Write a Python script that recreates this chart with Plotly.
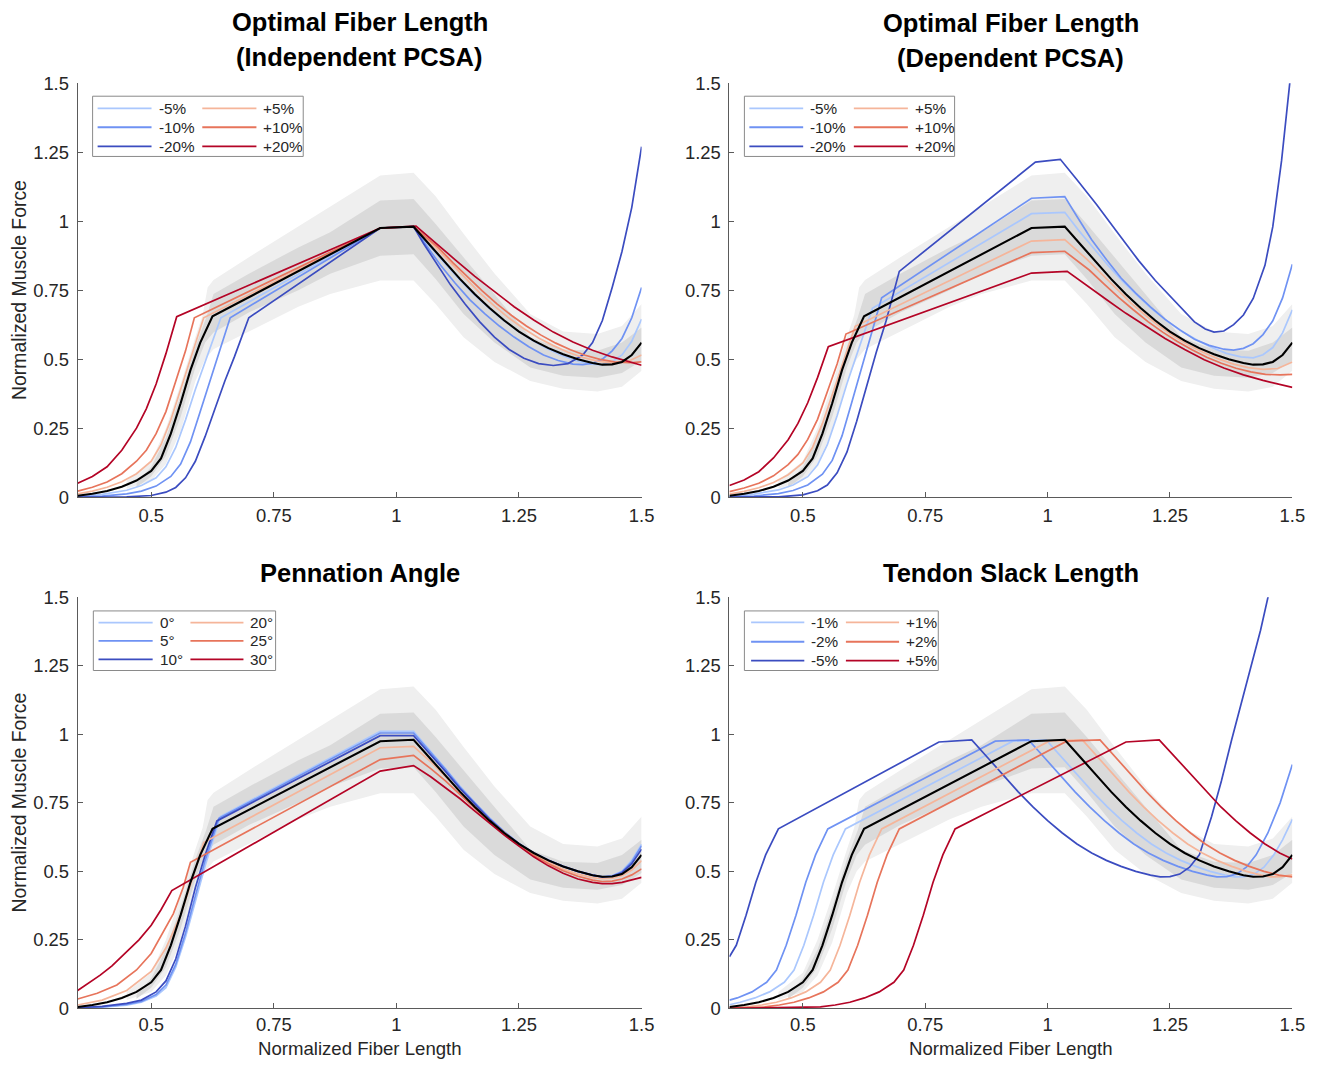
import plotly.graph_objects as go
from plotly.subplots import make_subplots

W, H = 1318, 1065
FONT = "Liberation Sans, Arial, Helvetica, sans-serif"

# ---------------- ticks ----------------
x_tick_vals = [0.5, 0.75, 1, 1.25, 1.5]
x_tick_text = ["0.5", "0.75", "1", "1.25", "1.5"]
y_tick_vals = [0, 0.25, 0.5, 0.75, 1, 1.25, 1.5]
y_tick_text = ["0", "0.25", "0.5", "0.75", "1", "1.25", "1.5"]

# ---------------- baseline (black) ----------------
base_x = [0.35, 0.38, 0.41, 0.44, 0.47, 0.50, 0.52, 0.54, 0.56, 0.58, 0.60, 0.625, 0.967, 1.035,
          1.07, 1.10, 1.13, 1.16, 1.19, 1.22, 1.25, 1.28, 1.31, 1.34, 1.37, 1.40, 1.42, 1.44, 1.46, 1.48, 1.50]
base_y = [0.005, 0.012, 0.022, 0.038, 0.06, 0.095, 0.14, 0.23, 0.34, 0.46, 0.56, 0.655, 0.975, 0.98,
          0.91, 0.85, 0.79, 0.735, 0.685, 0.64, 0.60, 0.567, 0.54, 0.518, 0.5, 0.486, 0.48, 0.481, 0.49, 0.515, 0.56]

# ---------------- variability bands ----------------
band_outer_up_x = [0.45, 0.50, 0.53, 0.56, 0.59, 0.605, 0.615, 0.627, 0.70, 0.80, 0.90, 0.967, 1.035,
                   1.08, 1.137, 1.20, 1.273, 1.34, 1.41, 1.46, 1.50]
band_outer_up_y = [0.06, 0.13, 0.25, 0.41, 0.58, 0.66, 0.76, 0.787, 0.87, 0.98, 1.09, 1.165, 1.175,
                   1.09, 0.954, 0.81, 0.664, 0.60, 0.591, 0.62, 0.70]
band_outer_lo_x = [0.45, 0.50, 0.53, 0.56, 0.59, 0.61, 0.627, 0.70, 0.80, 0.865, 0.967, 1.035,
                   1.08, 1.137, 1.20, 1.273, 1.34, 1.41, 1.46, 1.50]
band_outer_lo_y = [0.03, 0.06, 0.12, 0.24, 0.42, 0.50, 0.536, 0.60, 0.69, 0.736, 0.785, 0.785,
                   0.70, 0.579, 0.49, 0.421, 0.393, 0.383, 0.40, 0.458]
band_inner_up_x = [0.47, 0.50, 0.53, 0.56, 0.59, 0.612, 0.627, 0.70, 0.80, 0.865, 0.967, 1.035,
                   1.08, 1.137, 1.20, 1.273, 1.34, 1.41, 1.46, 1.50]
band_inner_up_y = [0.05, 0.11, 0.215, 0.37, 0.545, 0.65, 0.736, 0.81, 0.905, 0.96, 1.075, 1.08,
                   0.99, 0.87, 0.735, 0.579, 0.535, 0.53, 0.56, 0.615]
band_inner_lo_x = [0.47, 0.50, 0.53, 0.56, 0.59, 0.61, 0.627, 0.70, 0.80, 0.865, 0.967, 1.035,
                   1.08, 1.137, 1.20, 1.273, 1.34, 1.41, 1.46, 1.50]
band_inner_lo_y = [0.035, 0.075, 0.15, 0.29, 0.47, 0.56, 0.597, 0.67, 0.75, 0.809, 0.875, 0.88,
                   0.79, 0.664, 0.56, 0.47, 0.44, 0.433, 0.45, 0.494]

# ---------------- Panel 1: Optimal Fiber Length (Independent PCSA) ----------------
tl_labels_neg = ["-5%", "-10%", "-20%"]
tl_labels_pos = ["+5%", "+10%", "+20%"]
tl_m5_x = [0.35, 0.40, 0.45, 0.48, 0.51, 0.53, 0.55, 0.57, 0.59, 0.61, 0.625, 0.642, 0.967, 1.035, 1.065, 1.095,
           1.125, 1.155, 1.185, 1.215, 1.245, 1.275, 1.305, 1.335, 1.365, 1.395, 1.42, 1.44, 1.46, 1.48, 1.50]
tl_m5_y = [0.003, 0.01, 0.025, 0.042, 0.07, 0.11, 0.18, 0.28, 0.39, 0.49, 0.565, 0.65, 0.975, 0.98, 0.915, 0.855,
           0.795, 0.74, 0.69, 0.645, 0.605, 0.57, 0.54, 0.515, 0.495, 0.482, 0.48, 0.49, 0.515, 0.565, 0.645]
tl_m10_x = [0.35, 0.40, 0.45, 0.48, 0.51, 0.54, 0.56, 0.58, 0.60, 0.62, 0.64, 0.661, 0.967, 1.035, 1.06, 1.09,
            1.12, 1.15, 1.18, 1.21, 1.24, 1.27, 1.30, 1.33, 1.36, 1.38, 1.40, 1.42, 1.44, 1.46, 1.48, 1.50]
tl_m10_y = [0.001, 0.004, 0.012, 0.022, 0.04, 0.075, 0.12, 0.2, 0.31, 0.42, 0.53, 0.65, 0.975, 0.98, 0.915, 0.84,
            0.775, 0.715, 0.665, 0.62, 0.58, 0.545, 0.515, 0.495, 0.482, 0.48, 0.485, 0.5, 0.53, 0.575, 0.65, 0.76]
tl_m20_x = [0.35, 0.45, 0.50, 0.53, 0.55, 0.57, 0.59, 0.61, 0.63, 0.65, 0.67, 0.699, 0.967, 1.035, 1.055, 1.08,
            1.11, 1.14, 1.17, 1.20, 1.23, 1.26, 1.29, 1.32, 1.35, 1.38, 1.40, 1.42, 1.44, 1.46, 1.48, 1.50]
tl_m20_y = [0.0, 0.001, 0.006, 0.018, 0.035, 0.07, 0.13, 0.22, 0.32, 0.42, 0.51, 0.65, 0.975, 0.98, 0.92, 0.85,
            0.77, 0.70, 0.635, 0.58, 0.535, 0.503, 0.484, 0.477, 0.484, 0.515, 0.56, 0.64, 0.76, 0.89, 1.05, 1.27]
tl_p5_x = [0.35, 0.38, 0.41, 0.44, 0.47, 0.50, 0.52, 0.54, 0.56, 0.58, 0.607, 0.967, 1.035, 1.08, 1.11, 1.14,
           1.17, 1.20, 1.23, 1.26, 1.29, 1.32, 1.35, 1.38, 1.41, 1.44, 1.47, 1.50]
tl_p5_y = [0.012, 0.022, 0.036, 0.056, 0.085, 0.13, 0.19, 0.28, 0.39, 0.5, 0.65, 0.975, 0.98, 0.905, 0.85, 0.793,
           0.74, 0.692, 0.648, 0.61, 0.577, 0.549, 0.525, 0.506, 0.493, 0.486, 0.49, 0.515]
tl_p10_x = [0.35, 0.38, 0.41, 0.44, 0.47, 0.49, 0.51, 0.53, 0.55, 0.57, 0.588, 0.967, 1.035, 1.085, 1.115, 1.145,
            1.175, 1.205, 1.235, 1.265, 1.295, 1.325, 1.355, 1.385, 1.415, 1.445, 1.475, 1.50]
tl_p10_y = [0.022, 0.036, 0.055, 0.085, 0.13, 0.17, 0.23, 0.31, 0.42, 0.53, 0.65, 0.975, 0.98, 0.905, 0.85, 0.797,
            0.747, 0.70, 0.658, 0.62, 0.587, 0.558, 0.534, 0.514, 0.499, 0.49, 0.487, 0.49]
tl_p20_x = [0.35, 0.38, 0.41, 0.44, 0.47, 0.49, 0.51, 0.53, 0.552, 0.967, 1.04, 1.08, 1.12, 1.16, 1.20, 1.24,
            1.28, 1.32, 1.36, 1.40, 1.44, 1.47, 1.50]
tl_p20_y = [0.05, 0.075, 0.11, 0.17, 0.25, 0.32, 0.41, 0.52, 0.654, 0.975, 0.982, 0.92, 0.86, 0.80, 0.745, 0.69,
            0.642, 0.598, 0.562, 0.532, 0.508, 0.492, 0.478]

# ---------------- Panel 2: Optimal Fiber Length (Dependent PCSA) ----------------
tr_labels_neg = ["-5%", "-10%", "-20%"]
tr_labels_pos = ["+5%", "+10%", "+20%"]
tr_m5_x = tl_m5_x
tr_m5_y = [0.003, 0.011, 0.026, 0.044, 0.074, 0.116, 0.19, 0.295, 0.411, 0.516, 0.595, 0.684, 1.027, 1.032, 0.963,
           0.90, 0.837, 0.779, 0.727, 0.679, 0.637, 0.60, 0.569, 0.542, 0.521, 0.508, 0.505, 0.516, 0.542, 0.595, 0.679]
tr_m10_x = tl_m10_x
tr_m10_y = [0.001, 0.004, 0.013, 0.024, 0.044, 0.083, 0.133, 0.222, 0.344, 0.467, 0.589, 0.722, 1.083, 1.089, 1.017,
            0.933, 0.861, 0.794, 0.739, 0.689, 0.644, 0.606, 0.572, 0.55, 0.536, 0.533, 0.539, 0.556, 0.589, 0.639,
            0.722, 0.844]
tr_m20_x = [0.35, 0.45, 0.50, 0.53, 0.55, 0.57, 0.59, 0.61, 0.63, 0.65, 0.67, 0.697, 0.975, 1.026, 1.06, 1.10,
            1.14, 1.186, 1.22, 1.254, 1.28, 1.30, 1.322, 1.34, 1.36, 1.38, 1.40, 1.42, 1.444, 1.46, 1.478, 1.495, 1.50]
tr_m20_y = [0.0, 0.001, 0.008, 0.023, 0.044, 0.088, 0.163, 0.275, 0.40, 0.525, 0.638, 0.818, 1.214, 1.224, 1.15,
            1.06, 0.965, 0.857, 0.785, 0.72, 0.67, 0.635, 0.609, 0.598, 0.602, 0.625, 0.66, 0.72, 0.84, 0.98, 1.22,
            1.50, 1.59]
tr_p5_x = tl_p5_x
tr_p5_y = [0.011, 0.021, 0.034, 0.053, 0.081, 0.124, 0.181, 0.267, 0.371, 0.476, 0.619, 0.928, 0.933, 0.862,
           0.809, 0.755, 0.704, 0.659, 0.617, 0.581, 0.549, 0.523, 0.50, 0.482, 0.469, 0.463, 0.466, 0.49]
tr_p10_x = tl_p10_x
tr_p10_y = [0.02, 0.033, 0.05, 0.077, 0.118, 0.155, 0.209, 0.282, 0.382, 0.482, 0.591, 0.886, 0.891, 0.823,
            0.773, 0.724, 0.679, 0.636, 0.598, 0.564, 0.534, 0.507, 0.485, 0.467, 0.454, 0.445, 0.443, 0.445]
tr_p20_x = tl_p20_x
tr_p20_y = [0.042, 0.062, 0.092, 0.142, 0.208, 0.267, 0.342, 0.433, 0.545, 0.812, 0.818, 0.766, 0.716, 0.666,
            0.621, 0.575, 0.535, 0.498, 0.468, 0.443, 0.423, 0.41, 0.398]

# ---------------- Panel 3: Pennation Angle ----------------
bl_labels_neg = ["0°", "5°", "10°"]
bl_labels_pos = ["20°", "25°", "30°"]
bl_a0_x = [0.35, 0.40, 0.45, 0.48, 0.51, 0.53, 0.55, 0.57, 0.59, 0.61, 0.641, 0.967, 1.035, 1.07, 1.10, 1.13,
           1.16, 1.19, 1.22, 1.25, 1.28, 1.31, 1.34, 1.37, 1.40, 1.42, 1.44, 1.46, 1.48, 1.50]
bl_a0_y = [0.0, 0.004, 0.012, 0.022, 0.045, 0.075, 0.15, 0.26, 0.39, 0.52, 0.70, 1.011, 1.011, 0.94, 0.875, 0.81,
           0.75, 0.695, 0.645, 0.602, 0.567, 0.54, 0.518, 0.5, 0.486, 0.48, 0.484, 0.50, 0.54, 0.599]
bl_a5_x = [0.35, 0.40, 0.45, 0.48, 0.51, 0.53, 0.55, 0.57, 0.59, 0.61, 0.638, 0.967, 1.035, 1.07, 1.10, 1.13,
           1.16, 1.19, 1.22, 1.25, 1.28, 1.31, 1.34, 1.37, 1.40, 1.42, 1.44, 1.46, 1.48, 1.50]
bl_a5_y = [0.001, 0.005, 0.014, 0.025, 0.05, 0.085, 0.16, 0.275, 0.41, 0.54, 0.693, 1.005, 1.005, 0.935, 0.872,
           0.807, 0.748, 0.693, 0.644, 0.601, 0.567, 0.54, 0.518, 0.5, 0.486, 0.48, 0.483, 0.498, 0.535, 0.593]
bl_a10_x = [0.35, 0.40, 0.45, 0.48, 0.51, 0.53, 0.55, 0.57, 0.59, 0.61, 0.634, 0.967, 1.035, 1.07, 1.10, 1.13,
            1.16, 1.19, 1.22, 1.25, 1.28, 1.31, 1.34, 1.37, 1.40, 1.42, 1.44, 1.46, 1.48, 1.50]
bl_a10_y = [0.002, 0.007, 0.018, 0.03, 0.06, 0.10, 0.18, 0.30, 0.44, 0.56, 0.684, 0.995, 0.995, 0.926, 0.865,
            0.802, 0.744, 0.69, 0.642, 0.60, 0.567, 0.54, 0.518, 0.5, 0.486, 0.479, 0.482, 0.495, 0.528, 0.581]
bl_a20_x = [0.35, 0.40, 0.45, 0.50, 0.53, 0.56, 0.58, 0.607, 0.967, 1.035, 1.07, 1.10, 1.13, 1.16, 1.19, 1.22,
            1.25, 1.28, 1.31, 1.34, 1.37, 1.40, 1.42, 1.44, 1.46, 1.48, 1.50]
bl_a20_y = [0.012, 0.03, 0.065, 0.135, 0.22, 0.34, 0.45, 0.605, 0.951, 0.956, 0.90, 0.845, 0.79, 0.735, 0.685,
            0.64, 0.598, 0.563, 0.533, 0.508, 0.49, 0.477, 0.473, 0.475, 0.485, 0.505, 0.539]
bl_a25_x = [0.35, 0.39, 0.43, 0.47, 0.50, 0.525, 0.545, 0.565, 0.58, 0.967, 1.035, 1.07, 1.10, 1.13, 1.16, 1.19,
            1.22, 1.25, 1.28, 1.31, 1.34, 1.37, 1.40, 1.42, 1.44, 1.46, 1.48, 1.50]
bl_a25_y = [0.034, 0.055, 0.085, 0.14, 0.20, 0.28, 0.345, 0.44, 0.533, 0.908, 0.923, 0.875, 0.83, 0.78, 0.73,
            0.68, 0.635, 0.595, 0.559, 0.528, 0.502, 0.482, 0.468, 0.463, 0.464, 0.472, 0.487, 0.509]
bl_a30_x = [0.35, 0.396, 0.42, 0.45, 0.475, 0.50, 0.52, 0.542, 0.967, 1.035, 1.07, 1.10, 1.13, 1.16, 1.19, 1.22,
            1.25, 1.28, 1.31, 1.34, 1.37, 1.40, 1.42, 1.44, 1.46, 1.48, 1.50]
bl_a30_y = [0.065, 0.121, 0.155, 0.206, 0.25, 0.303, 0.36, 0.43, 0.866, 0.886, 0.845, 0.805, 0.765, 0.72, 0.675,
            0.632, 0.592, 0.553, 0.52, 0.493, 0.472, 0.46, 0.455, 0.455, 0.46, 0.468, 0.478]

# ---------------- Panel 4: Tendon Slack Length ----------------
br_labels_neg = ["-1%", "-2%", "-5%"]
br_labels_pos = ["+1%", "+2%", "+5%"]
br_m1_x = [0.35, 0.372, 0.402, 0.432, 0.462, 0.482, 0.502, 0.522, 0.542, 0.562, 0.587, 0.929, 0.997, 1.032, 1.062,
           1.092, 1.122, 1.152, 1.182, 1.212, 1.242, 1.272, 1.302, 1.332, 1.362, 1.382, 1.402, 1.422, 1.442, 1.462,
           1.48, 1.50]
br_m1_y = [0.013, 0.022, 0.038, 0.06, 0.095, 0.14, 0.23, 0.34, 0.46, 0.56, 0.655, 0.975, 0.98, 0.91, 0.85, 0.79,
           0.735, 0.685, 0.64, 0.60, 0.567, 0.54, 0.518, 0.5, 0.486, 0.48, 0.481, 0.49, 0.515, 0.56, 0.615, 0.69]
br_m2_x = [0.35, 0.366, 0.396, 0.426, 0.446, 0.466, 0.486, 0.506, 0.526, 0.551, 0.893, 0.961, 0.996, 1.026, 1.056,
           1.086, 1.116, 1.146, 1.176, 1.206, 1.236, 1.266, 1.296, 1.326, 1.346, 1.366, 1.386, 1.406, 1.426, 1.45,
           1.475, 1.50]
br_m2_y = [0.03, 0.038, 0.06, 0.095, 0.14, 0.23, 0.34, 0.46, 0.56, 0.655, 0.975, 0.98, 0.91, 0.85, 0.79, 0.735,
           0.685, 0.64, 0.60, 0.567, 0.54, 0.518, 0.5, 0.486, 0.48, 0.481, 0.49, 0.515, 0.56, 0.64, 0.75, 0.89]
br_m5_x = [0.35, 0.364, 0.384, 0.404, 0.424, 0.45, 0.778, 0.845, 0.88, 0.91, 0.94, 0.97, 1.00, 1.03, 1.06, 1.09,
           1.12, 1.15, 1.18, 1.21, 1.23, 1.25, 1.27, 1.29, 1.31, 1.335, 1.355, 1.376, 1.40, 1.417, 1.435, 1.451,
           1.46]
br_m5_y = [0.188, 0.23, 0.34, 0.46, 0.56, 0.655, 0.972, 0.98, 0.91, 0.85, 0.79, 0.735, 0.685, 0.64, 0.60, 0.567,
           0.54, 0.518, 0.5, 0.486, 0.48, 0.481, 0.49, 0.515, 0.56, 0.70, 0.83, 0.98, 1.14, 1.259, 1.38, 1.507, 1.57]
br_p1_x = [0.35, 0.386, 0.416, 0.446, 0.476, 0.506, 0.536, 0.556, 0.576, 0.596, 0.616, 0.636, 0.661, 1.003, 1.071,
           1.106, 1.136, 1.166, 1.196, 1.226, 1.256, 1.286, 1.316, 1.346, 1.376, 1.406, 1.436, 1.456, 1.476, 1.50]
br_p1_y = [0.002, 0.005, 0.012, 0.022, 0.038, 0.06, 0.095, 0.14, 0.23, 0.34, 0.46, 0.56, 0.655, 0.975, 0.98, 0.91,
           0.85, 0.79, 0.735, 0.685, 0.64, 0.60, 0.567, 0.54, 0.518, 0.5, 0.486, 0.48, 0.481, 0.487]
br_p2_x = [0.35, 0.422, 0.452, 0.482, 0.512, 0.542, 0.572, 0.592, 0.612, 0.632, 0.652, 0.672, 0.697, 1.039, 1.107,
           1.142, 1.172, 1.202, 1.232, 1.262, 1.292, 1.322, 1.352, 1.382, 1.412, 1.442, 1.472, 1.492, 1.50]
br_p2_y = [0.001, 0.005, 0.012, 0.022, 0.038, 0.06, 0.095, 0.14, 0.23, 0.34, 0.46, 0.56, 0.655, 0.975, 0.98, 0.91,
           0.85, 0.79, 0.735, 0.685, 0.64, 0.60, 0.567, 0.54, 0.518, 0.5, 0.486, 0.48, 0.48]
br_p5_x = [0.35, 0.50, 0.536, 0.566, 0.596, 0.626, 0.656, 0.686, 0.706, 0.726, 0.746, 0.766, 0.786, 0.811, 1.160,
           1.228, 1.264, 1.294, 1.324, 1.354, 1.384, 1.414, 1.444, 1.474, 1.50]
br_p5_y = [0.0, 0.002, 0.005, 0.012, 0.022, 0.038, 0.06, 0.095, 0.14, 0.23, 0.34, 0.46, 0.56, 0.655, 0.972, 0.98,
           0.91, 0.85, 0.79, 0.735, 0.685, 0.64, 0.60, 0.567, 0.545]

# ---------------- styles ----------------
C_LB, C_MB, C_DB = "#AAC7FD", "#6F92F3", "#3B4CC0"
C_LO, C_MO, C_RD = "#F5B59A", "#E7745B", "#B40426"
COL_NEG = [C_LB, C_MB, C_DB]
COL_POS = [C_LO, C_MO, C_RD]
BAND_OUTER = "#EFEFEF"
BAND_INNER = "#DADADA"
AXIS_COL = "#5A5A5A"
TEXT_COL = "#262626"


# pixel -> paper helpers (with a small correction for the capture geometry)
def px(xp):
    return ((xp + 0.8) / 0.992) / W


def py(yp):
    return 1 - ((yp - 11.0) / 0.978) / H


panels = [
    dict(r=1, c=1, xa="x", ya="y",
         neg=[(tl_m5_x, tl_m5_y), (tl_m10_x, tl_m10_y), (tl_m20_x, tl_m20_y)],
         pos=[(tl_p5_x, tl_p5_y), (tl_p10_x, tl_p10_y), (tl_p20_x, tl_p20_y)],
         lab_neg=tl_labels_neg, lab_pos=tl_labels_pos,
         leg=dict(box=(0.0265, 0.400, 0.823, 0.9685), rows=(0.939, 0.8935, 0.8475),
                  c1=(0.0354, 0.131, 0.140), c2=(0.221, 0.317, 0.3257))),
    dict(r=1, c=2, xa="x2", ya="y2",
         neg=[(tr_m5_x, tr_m5_y), (tr_m10_x, tr_m10_y), (tr_m20_x, tr_m20_y)],
         pos=[(tr_p5_x, tr_p5_y), (tr_p10_x, tr_p10_y), (tr_p20_x, tr_p20_y)],
         lab_neg=tr_labels_neg, lab_pos=tr_labels_pos,
         leg=dict(box=(0.0266, 0.400, 0.823, 0.9685), rows=(0.939, 0.8935, 0.8475),
                  c1=(0.0354, 0.131, 0.140), c2=(0.221, 0.317, 0.3257))),
    dict(r=2, c=1, xa="x3", ya="y3",
         neg=[(bl_a0_x, bl_a0_y), (bl_a5_x, bl_a5_y), (bl_a10_x, bl_a10_y)],
         pos=[(bl_a20_x, bl_a20_y), (bl_a25_x, bl_a25_y), (bl_a30_x, bl_a30_y)],
         lab_neg=bl_labels_neg, lab_pos=bl_labels_pos,
         leg=dict(box=(0.0278, 0.351, 0.822, 0.967), rows=(0.9387, 0.894, 0.849),
                  c1=(0.037, 0.133, 0.1416), c2=(0.200, 0.294, 0.3027))),
    dict(r=2, c=2, xa="x4", ya="y4",
         neg=[(br_m1_x, br_m1_y), (br_m2_x, br_m2_y), (br_m5_x, br_m5_y)],
         pos=[(br_p1_x, br_p1_y), (br_p2_x, br_p2_y), (br_p5_x, br_p5_y)],
         lab_neg=br_labels_neg, lab_pos=br_labels_pos,
         leg=dict(box=(0.0266, 0.371, 0.822, 0.967), rows=(0.939, 0.892, 0.846),
                  c1=(0.0385, 0.133, 0.1406), c2=(0.2069, 0.3014, 0.3103))),
]

fig = make_subplots(rows=2, cols=2)

outer_poly_x = band_outer_up_x + band_outer_lo_x[::-1]
outer_poly_y = band_outer_up_y + band_outer_lo_y[::-1]
inner_poly_x = band_inner_up_x + band_inner_lo_x[::-1]
inner_poly_y = band_inner_up_y + band_inner_lo_y[::-1]

shapes = []
annotations = []

for p in panels:
    r, c = p["r"], p["c"]
    fig.add_trace(go.Scatter(x=outer_poly_x, y=outer_poly_y, fill="toself", fillcolor=BAND_OUTER,
                             mode="lines", line=dict(width=0), hoverinfo="skip", showlegend=False), row=r, col=c)
    fig.add_trace(go.Scatter(x=inner_poly_x, y=inner_poly_y, fill="toself", fillcolor=BAND_INNER,
                             mode="lines", line=dict(width=0), hoverinfo="skip", showlegend=False), row=r, col=c)
    for (xs, ys), col, lab in zip(p["neg"], COL_NEG, p["lab_neg"]):
        fig.add_trace(go.Scatter(x=xs, y=ys, mode="lines", line=dict(color=col, width=1.7),
                                 name=lab, showlegend=False), row=r, col=c)
    for (xs, ys), col, lab in zip(p["pos"], COL_POS, p["lab_pos"]):
        fig.add_trace(go.Scatter(x=xs, y=ys, mode="lines", line=dict(color=col, width=1.7),
                                 name=lab, showlegend=False), row=r, col=c)
    fig.add_trace(go.Scatter(x=base_x, y=base_y, mode="lines", line=dict(color="black", width=2.1),
                             name="baseline", showlegend=False), row=r, col=c)

    # manual legend box (two columns x three rows)
    lg = p["leg"]
    xr, yr = p["xa"] + " domain", p["ya"] + " domain"
    bx0, bx1, by0, by1 = lg["box"]
    shapes.append(dict(type="rect", xref=xr, yref=yr, x0=bx0, x1=bx1, y0=by0, y1=by1,
                       line=dict(color="#8A8A8A", width=1), fillcolor="white", layer="above"))
    for i, ry in enumerate(lg["rows"]):
        for (lx0, lx1, tx), cols, labs in ((lg["c1"], COL_NEG, p["lab_neg"]), (lg["c2"], COL_POS, p["lab_pos"])):
            shapes.append(dict(type="line", xref=xr, yref=yr, x0=lx0, x1=lx1, y0=ry, y1=ry,
                               line=dict(color=cols[i], width=1.8), layer="above"))
            annotations.append(dict(xref=xr, yref=yr, x=tx, y=ry, text=labs[i], showarrow=False,
                                    xanchor="left", yanchor="middle",
                                    font=dict(family=FONT, size=15.3, color=TEXT_COL)))

# domains (pixel based); bottom row nudged up a little so its tick labels clear the axis title
xd = [[px(77), px(642)], [px(730), px(1294)]]
yd = [[py(496), py(83)], [py(1006), py(596)]]
standoff = {1: 2, 2: 0}

axis_common = dict(showgrid=False, zeroline=False, showline=True, linecolor=AXIS_COL, linewidth=1,
                   ticks="inside", ticklen=5, tickwidth=1, tickcolor=AXIS_COL, mirror=False,
                   tickfont=dict(family=FONT, size=18.4, color=TEXT_COL))
for idx, p in enumerate(panels):
    r, c = p["r"], p["c"]
    fig.update_xaxes(axis_common, range=[0.35, 1.5], tickvals=x_tick_vals, ticktext=x_tick_text,
                     domain=xd[c - 1], ticklabelstandoff=standoff[r], row=r, col=c)
    fig.update_yaxes(axis_common, range=[0, 1.5], tickvals=y_tick_vals, ticktext=y_tick_text,
                     domain=yd[r - 1], ticklabelstandoff=4, row=r, col=c)

# titles
title_font = dict(family=FONT, size=25.5, color="black", weight="bold")
cx_left = px((77 + 642) / 2)
cx_right = px((730 + 1294) / 2)
for txt, cx, cy in [("Optimal Fiber Length", cx_left, 22), ("(Independent PCSA)", cx_left, 57),
                    ("Optimal Fiber Length", cx_right, 23), ("(Dependent PCSA)", cx_right, 58),
                    ("Pennation Angle", cx_left, 572), ("Tendon Slack Length", cx_right, 572)]:
    annotations.append(dict(xref="paper", yref="paper", x=cx, y=py(cy), text=txt, showarrow=False,
                            xanchor="center", yanchor="middle", font=title_font))

lab_font = dict(family=FONT, size=19.4, color=TEXT_COL)
for cy in [(83 + 496) / 2, (596 + 1006) / 2]:
    annotations.append(dict(xref="paper", yref="paper", x=px(18), y=py(cy), text="Normalized Muscle Force",
                            textangle=-90, showarrow=False, xanchor="center", yanchor="middle", font=lab_font))
for cx in [cx_left, cx_right]:
    annotations.append(dict(xref="paper", yref="paper", x=cx, y=py(1046.5), text="Normalized Fiber Length",
                            showarrow=False, xanchor="center", yanchor="middle",
                            font=dict(family=FONT, size=18.6, color=TEXT_COL)))

fig.update_layout(width=W, height=H, margin=dict(l=0, r=0, t=0, b=0),
                  paper_bgcolor="white", plot_bgcolor="white", showlegend=False,
                  shapes=shapes, annotations=annotations, font=dict(family=FONT, color=TEXT_COL))

page_fix = ("var d=document.documentElement, b=document.body;"
            "d.style.margin='0';d.style.padding='0';d.style.overflow='hidden';d.style.height='1065px';"
            "b.style.margin='0';b.style.padding='0';b.style.overflow='hidden';b.style.height='1065px';"
            "var gd=document.getElementById('{plot_id}');"
            "gd.style.position='fixed';gd.style.left='0px';gd.style.top='0px';")
fig.write_html("out.html", post_script=page_fix, config={"displayModeBar": False})
